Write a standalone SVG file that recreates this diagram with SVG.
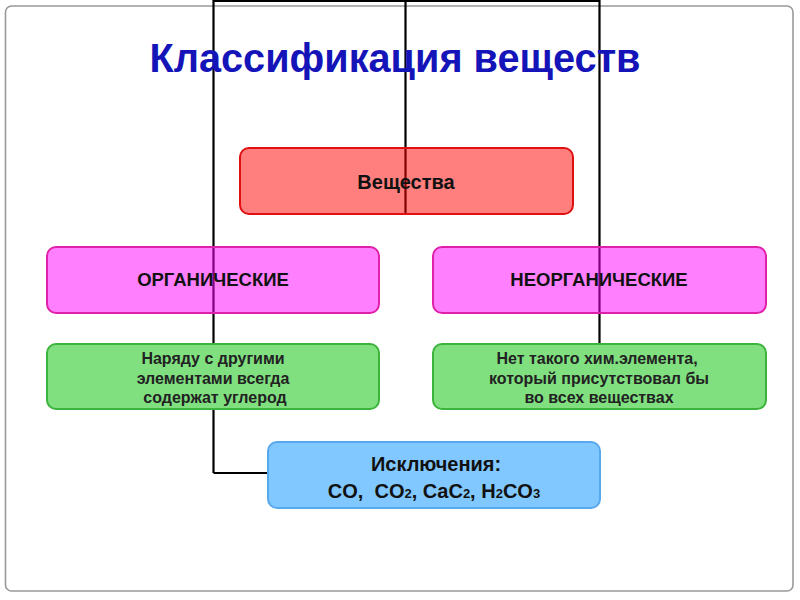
<svg xmlns="http://www.w3.org/2000/svg" width="800" height="600" viewBox="0 0 800 600">
<style>
.t{font-family:"Liberation Sans",Arial,sans-serif;font-weight:bold;fill:#111;text-anchor:middle}
.g{font-family:"Liberation Sans",Arial,sans-serif;font-weight:bold;fill:#222;text-anchor:middle;font-size:16px}
.ln{fill:none;stroke:#000;stroke-width:2.2}
</style>
<rect width="800" height="600" fill="#fff"/>
<rect x="5.5" y="6" width="787.5" height="585" rx="6" fill="#fff" stroke="#999" stroke-width="1.6"/>
<g id="connectors">
<path class="ln" d="M213.5,473 V1 H599.5 V344"/>
<path class="ln" d="M405.5,1 V214"/>
<path class="ln" d="M213.5,473 H268"/>
</g>
<text x="395" y="72" font-family="Liberation Sans,Arial,sans-serif" font-weight="bold" font-size="40" fill="#1414B8" text-anchor="middle" textLength="491" lengthAdjust="spacingAndGlyphs">Классификация веществ</text>
<g id="veshchestva">
<rect x="240" y="148" width="333" height="66" rx="9" fill="#ff0000" fill-opacity="0.5" stroke="#e01010" stroke-width="2"/>
<text class="t" x="406" y="189" font-size="20">Вещества</text>
</g>
<g id="organic">
<rect x="47" y="247" width="332" height="66" rx="9" fill="#ff00ff" fill-opacity="0.5" stroke="#e020a8" stroke-width="2"/>
<text class="t" x="213" y="286" font-size="18.5">ОРГАНИЧЕСКИЕ</text>
</g>
<g id="inorganic">
<rect x="433" y="247" width="333" height="66" rx="9" fill="#ff00ff" fill-opacity="0.5" stroke="#e020a8" stroke-width="2"/>
<text class="t" x="599" y="286" font-size="18.5">НЕОРГАНИЧЕСКИЕ</text>
</g>
<g id="organic-desc">
<rect x="47" y="344" width="332" height="65" rx="9" fill="#80e080" stroke="#3cb43c" stroke-width="2"/>
<text class="g" x="213" y="364">Наряду с другими</text>
<text class="g" x="213" y="384">элементами всегда</text>
<text class="g" x="215" y="403">содержат углерод</text>
</g>
<g id="inorganic-desc">
<rect x="433" y="344" width="333" height="65" rx="9" fill="#80e080" stroke="#3cb43c" stroke-width="2"/>
<text class="g" x="597" y="364">Нет такого хим.элемента,</text>
<text class="g" x="599" y="384">который присутствовал бы</text>
<text class="g" x="599" y="403">во всех веществах</text>
</g>
<g id="exceptions">
<rect x="268" y="442" width="332" height="66" rx="9" fill="#80c8ff" stroke="#58a8ee" stroke-width="2"/>
<text class="t" x="436" y="471" font-size="20">Исключения:</text>
<text class="t" x="434" y="498" font-size="20" xml:space="preserve">CO,  CO<tspan font-size="13">2</tspan>, CaC<tspan font-size="13">2</tspan>, H<tspan font-size="13">2</tspan>CO<tspan font-size="13">3</tspan></text>
</g>
</svg>
